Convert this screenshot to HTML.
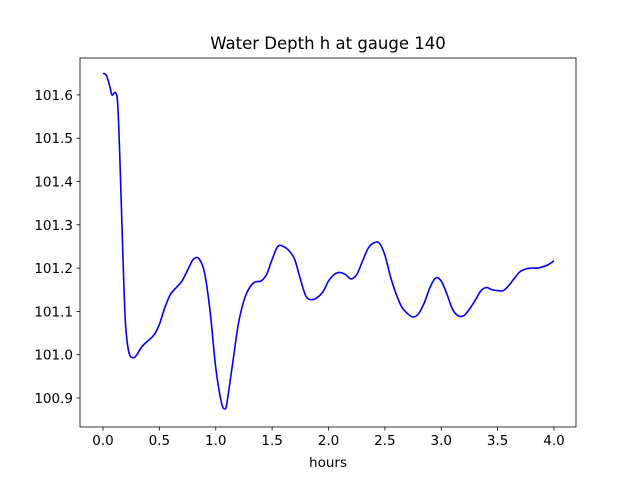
<!DOCTYPE html>
<html><head><meta charset="utf-8"><style>
body{margin:0;background:#fff}
svg text{font-family:"DejaVu Sans","Liberation Sans",sans-serif;fill:#000}
</style></head><body>
<svg width="640" height="480" viewBox="0 0 640 480">
<rect width="640" height="480" fill="#fff"/>
<g id="ticks"></g>
<path id="line" d="" fill="none" stroke="#0000ff" stroke-width="1.6" stroke-linejoin="round"/>
<rect x="80" y="58" width="496" height="369" fill="none" stroke="#000" stroke-width="0.8"/>
<text x="328" y="49" font-size="16.5" text-anchor="middle">Water Depth h at gauge 140</text>
<text x="328" y="467" font-size="13.5" text-anchor="middle">hours</text>
</svg>
<script>
const hours=[0,0.03,0.06,0.08,0.11,0.13,0.15,0.18,0.2,0.23,0.27,0.3,0.35,0.45,0.5,0.55,0.6,0.65,0.7,0.75,0.8,0.85,0.9,0.95,1.0,1.05,1.08,1.1,1.15,1.2,1.25,1.3,1.35,1.4,1.45,1.5,1.55,1.6,1.65,1.7,1.75,1.8,1.85,1.9,1.95,2.0,2.05,2.1,2.15,2.2,2.25,2.3,2.35,2.4,2.45,2.5,2.55,2.6,2.65,2.7,2.75,2.8,2.85,2.9,2.95,3.0,3.05,3.1,3.15,3.2,3.25,3.3,3.35,3.4,3.45,3.5,3.55,3.6,3.65,3.7,3.75,3.8,3.85,3.9,3.95,4.0];
const depth=[101.65,101.645,101.62,101.60,101.605,101.58,101.45,101.2,101.07,101.005,100.993,101.0,101.02,101.045,101.07,101.11,101.14,101.155,101.17,101.195,101.22,101.222,101.19,101.1,100.97,100.89,100.875,100.89,100.98,101.07,101.125,101.155,101.168,101.17,101.185,101.22,101.25,101.25,101.24,101.22,101.175,101.135,101.127,101.132,101.145,101.17,101.185,101.19,101.185,101.175,101.185,101.215,101.245,101.258,101.258,101.23,101.18,101.14,101.11,101.095,101.087,101.095,101.12,101.155,101.177,101.17,101.14,101.105,101.09,101.09,101.105,101.125,101.147,101.155,101.15,101.148,101.148,101.16,101.177,101.192,101.198,101.2,101.2,101.203,101.208,101.217];
const xTicks=[0,0.5,1,1.5,2,2.5,3,3.5,4];
const xTickLabels=["0.0","0.5","1.0","1.5","2.0","2.5","3.0","3.5","4.0"];
const yTicks=[100.9,101.0,101.1,101.2,101.3,101.4,101.5,101.6];
const yTickLabels=["100.9","101.0","101.1","101.2","101.3","101.4","101.5","101.6"];
const X=t=>103+t*112.75;
const Y=v=>398-(v-100.9)*433;
const NS="http://www.w3.org/2000/svg";
const g=document.getElementById('ticks');
function mk(tag,attrs){const e=document.createElementNS(NS,tag);for(const k in attrs)e.setAttribute(k,attrs[k]);g.appendChild(e);return e;}
xTicks.forEach((t,i)=>{
  const l=mk('line',{x1:X(t),x2:X(t),y1:427,y2:430.5,stroke:'#000','stroke-width':0.8});
  
  
  const tx=mk('text',{x:X(t),y:445,'font-size':13.5,'text-anchor':'middle'});
  tx.textContent=xTickLabels[i];
  
  
});
yTicks.forEach((v,i)=>{
  const l=mk('line',{x1:76.5,x2:80,y1:Y(v),y2:Y(v),stroke:'#000','stroke-width':0.8});
  
  
  const tx=mk('text',{x:73,y:Y(v)+5,'font-size':13.5,'text-anchor':'end'});
  tx.textContent=yTickLabels[i];
  
  
});
// Catmull-Rom smooth path
const pts=hours.map((t,i)=>[X(t),Y(depth[i])]);
let d='M'+pts[0][0]+','+pts[0][1];
for(let i=0;i<pts.length-1;i++){
  const p0=pts[Math.max(i-1,0)],p1=pts[i],p2=pts[i+1],p3=pts[Math.min(i+2,pts.length-1)];
  const c1=[p1[0]+(p2[0]-p0[0])/6,p1[1]+(p2[1]-p0[1])/6];
  const c2=[p2[0]-(p3[0]-p1[0])/6,p2[1]-(p3[1]-p1[1])/6];
  d+=` C${c1[0]},${c1[1]} ${c2[0]},${c2[1]} ${p2[0]},${p2[1]}`;
}
document.getElementById('line').setAttribute('d',d);
</script>
</body></html>
